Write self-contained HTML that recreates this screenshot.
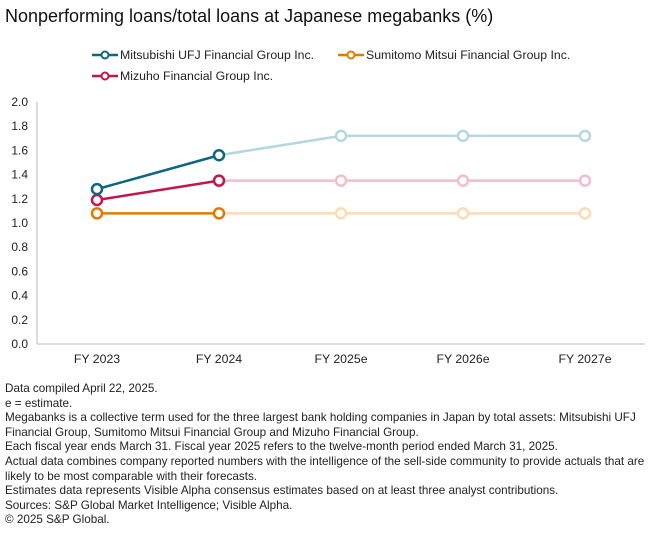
<!DOCTYPE html>
<html><head><meta charset="utf-8"><style>
body{margin:0;background:#fff;font-family:"Liberation Sans",sans-serif;color:#222;}
#wrap{position:relative;width:660px;height:541px;overflow:hidden;}
h1{position:absolute;left:5px;top:6px;margin:0;font-size:18px;font-weight:normal;color:#111;}
.notes{position:absolute;left:5px;top:382px;font-size:11.7px;line-height:14.6px;color:#222;white-space:nowrap;}
svg text{font-family:"Liberation Sans",sans-serif;}
</style></head><body>
<div id="wrap">
<h1>Nonperforming loans/total loans at Japanese megabanks (%)</h1>
<svg id="chart" width="660" height="380" style="position:absolute;left:0;top:0"></svg>
<div class="notes">
Data compiled April 22, 2025.<br>
e = estimate.<br>
Megabanks is a collective term used for the three largest bank holding companies in Japan by total assets: Mitsubishi UFJ<br>Financial Group, Sumitomo Mitsui Financial Group and Mizuho Financial Group.<br>
Each fiscal year ends March 31. Fiscal year 2025 refers to the twelve-month period ended March 31, 2025.<br>
Actual data combines company reported numbers with the intelligence of the sell-side community to provide actuals that are<br>likely to be most comparable with their forecasts.<br>
Estimates data represents Visible Alpha consensus estimates based on at least three analyst contributions.<br>
Sources: S&amp;P Global Market Intelligence; Visible Alpha.<br>
© 2025 S&amp;P Global.
</div>
</div>
<script>
const categories=["FY 2023","FY 2024","FY 2025e","FY 2026e","FY 2027e"];
const mufgValues=[1.28,1.56,1.72,1.72,1.72];
const smfgValues=[1.08,1.08,1.08,1.08,1.08];
const mizuhoValues=[1.19,1.35,1.35,1.35,1.35];
const yTicks=[0,0.2,0.4,0.6,0.8,1.0,1.2,1.4,1.6,1.8,2.0];
const actualCount=2;
const NS="http://www.w3.org/2000/svg";
const svg=document.getElementById('chart');
const x0=37,x1=645,y0=344,y1=102,ymax=2.0;
const xs=i=>97+i*(585-97)/(categories.length-1);
const ys=v=>y0-(v/ymax)*(y0-y1);
function mk(t,a){const e=document.createElementNS(NS,t);for(const k in a)e.setAttribute(k,a[k]);svg.appendChild(e);return e;}
let e=mk('line',{x1:x0,y1:y1,x2:x0,y2:y0,stroke:'#bbb','stroke-width':1});


e=mk('line',{x1:x0,y1:y0,x2:x1,y2:y0,stroke:'#bbb','stroke-width':1});


yTicks.forEach(v=>{const t=mk('text',{x:28,y:ys(v)+4,'text-anchor':'end','font-size':12,fill:'#222'});t.textContent=v.toFixed(1);

});
categories.forEach((c,i)=>{const t=mk('text',{x:xs(i),y:363,'text-anchor':'middle','font-size':12.3,fill:'#222'});t.textContent=c;

});
const series=[
 {name:'mizuho',vals:mizuhoValues,c:'#c0174e',l:'#f0bfcd'},
 {name:'smfg',vals:smfgValues,c:'#e07b00',l:'#fbdcb4'},
 {name:'mufg',vals:mufgValues,c:'#0e6680',l:'#b5d7df'}];
series.forEach(s=>{
 for(let i=0;i<s.vals.length-1;i++){
  const col=i+1<actualCount?s.c:s.l;
  const ln=mk('line',{x1:xs(i),y1:ys(s.vals[i]),x2:xs(i+1),y2:ys(s.vals[i+1]),stroke:col,'stroke-width':2.5});
  
  
 }
 s.vals.forEach((v,i)=>{const col=i<actualCount?s.c:s.l;
  const p=mk('circle',{cx:xs(i),cy:ys(v),r:5,fill:'#fff',stroke:col,'stroke-width':2.5});
  
  });
});
const legend=[["Mitsubishi UFJ Financial Group Inc.",'#0e6680',92,55],["Sumitomo Mitsui Financial Group Inc.",'#e07b00',338,55],["Mizuho Financial Group Inc.",'#c0174e',92,76]];
legend.forEach(([n,c,x,y])=>{
 const g=document.createElementNS(NS,'g');svg.appendChild(g);
 
 
 const l=document.createElementNS(NS,'line');l.setAttribute('x1',x);l.setAttribute('x2',x+26);l.setAttribute('y1',y);l.setAttribute('y2',y);l.setAttribute('stroke',c);l.setAttribute('stroke-width',2.5);g.appendChild(l);
 const ci=document.createElementNS(NS,'circle');ci.setAttribute('cx',x+13);ci.setAttribute('cy',y);ci.setAttribute('r',3.5);ci.setAttribute('fill','#fff');ci.setAttribute('stroke',c);ci.setAttribute('stroke-width',2);g.appendChild(ci);
 const t=document.createElementNS(NS,'text');t.setAttribute('x',x+28);t.setAttribute('y',y+4);t.setAttribute('font-size',12.3);t.setAttribute('fill','#222');t.textContent=n;g.appendChild(t);
});
</script>
</body></html>
